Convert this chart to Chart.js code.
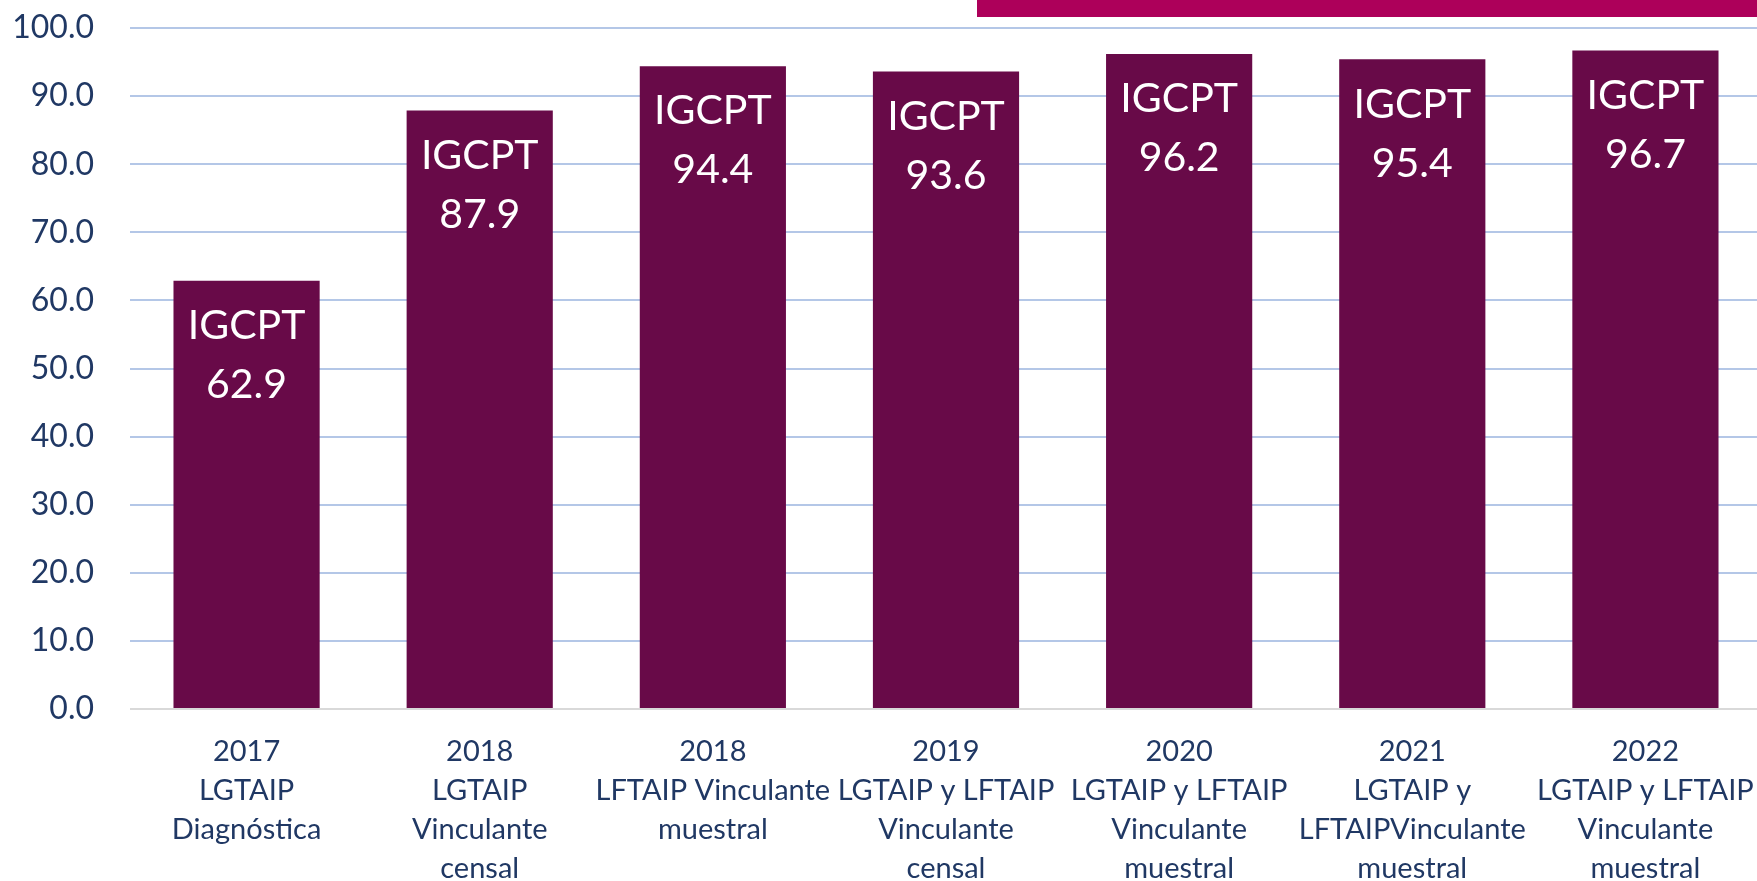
<!DOCTYPE html>
<html>
<head>
<meta charset="utf-8">
<script src="https://cdn.jsdelivr.net/npm/chart.js@4"></script>
<style>
  html, body { margin: 0; padding: 0; background: #fff; overflow: hidden; }
  #wrap { position: relative; width: 1757px; height: 881px; overflow: hidden; }
  #topBand { position: absolute; left: 977px; top: 0; width: 780px; height: 17px; background: #ad005a; }
</style>
</head>
<body>
<div id="wrap">
  <!-- canvas a bit wider than the page: the original plot area is cropped on the right -->
  <canvas id="myChart" width="1762" height="881"></canvas>
  <div id="topBand"></div>
</div>
<script>
const categories = [
    ['2017', 'LGTAIP', 'Diagnóstica'],
    ['2018', 'LGTAIP', 'Vinculante', 'censal'],
    ['2018', 'LFTAIP Vinculante', 'muestral'],
    ['2019', 'LGTAIP y LFTAIP', 'Vinculante', 'censal'],
    ['2020', 'LGTAIP y LFTAIP', 'Vinculante', 'muestral'],
    ['2021', 'LGTAIP y', 'LFTAIPVinculante', 'muestral'],
    ['2022', 'LGTAIP y LFTAIP', 'Vinculante', 'muestral']
];
const igcptValues = [62.9, 87.9, 94.4, 93.6, 96.2, 95.4, 96.7];
const labelPrefix = 'IGCPT';

// labels drawn inside the top of each bar, two lines
const barLabelPlugin = {
  id: 'barLabels',
  afterDatasetsDraw(chart) {
    const ctx = chart.ctx;
    const meta = chart.getDatasetMeta(0);
    ctx.save();
    ctx.font = '41px Lato';
    ctx.fillStyle = '#ffffff';
    ctx.textAlign = 'center';
    ctx.textBaseline = 'middle';
    meta.data.forEach((bar, i) => {
      ctx.fillText(labelPrefix, bar.x, bar.y + 45);
      ctx.fillText(igcptValues[i].toFixed(1), bar.x, bar.y + 104);
    });
    ctx.restore();
  }
};

const ctx = document.getElementById('myChart').getContext('2d');
const chart = new Chart(ctx, {
    type: 'bar',
    data: {
        labels: categories,
        datasets: [{
            data: igcptValues,
            backgroundColor: '#680a48',
            categoryPercentage: 1,
            barPercentage: 0.627
        }]
    },
    options: {
        responsive: false,
        animation: false,
        layout: { padding: { top: 28, left: 0, right: 0, bottom: 0 } },
        plugins: {
            legend: { display: false },
            tooltip: { enabled: false }
        },
        scales: {
            x: {
                // ticks kept but invisible, so the label gap does not add side padding
                grid: { drawOnChartArea: false, drawTicks: true, tickLength: 20, color: 'rgba(0,0,0,0)', tickColor: 'rgba(0,0,0,0)' },
                border: { display: false },
                ticks: {
                    autoSkip: false,
                    maxRotation: 0,
                    padding: 3,
                    color: '#203864',
                    font: { family: 'Lato', size: 29, lineHeight: 1.345 }
                },
                afterFit(s) { s.height = 172; }
            },
            y: {
                min: 0,
                max: 100,
                grid: {
                    drawTicks: true,
                    tickLength: 30,
                    tickColor: 'rgba(0,0,0,0)',
                    lineWidth: 2,
                    color: c => c.tick.value === 0 ? '#d9d9d9' : '#b4c7e7'
                },
                border: { display: false },
                ticks: {
                    stepSize: 10,
                    padding: 6,
                    color: '#203864',
                    font: { family: 'Lato', size: 32 },
                    callback: v => Number(v).toFixed(1)
                },
                afterFit(s) { s.width = 130; }
            }
        }
    },
    plugins: [barLabelPlugin]
});
</script>
</body>
</html>
